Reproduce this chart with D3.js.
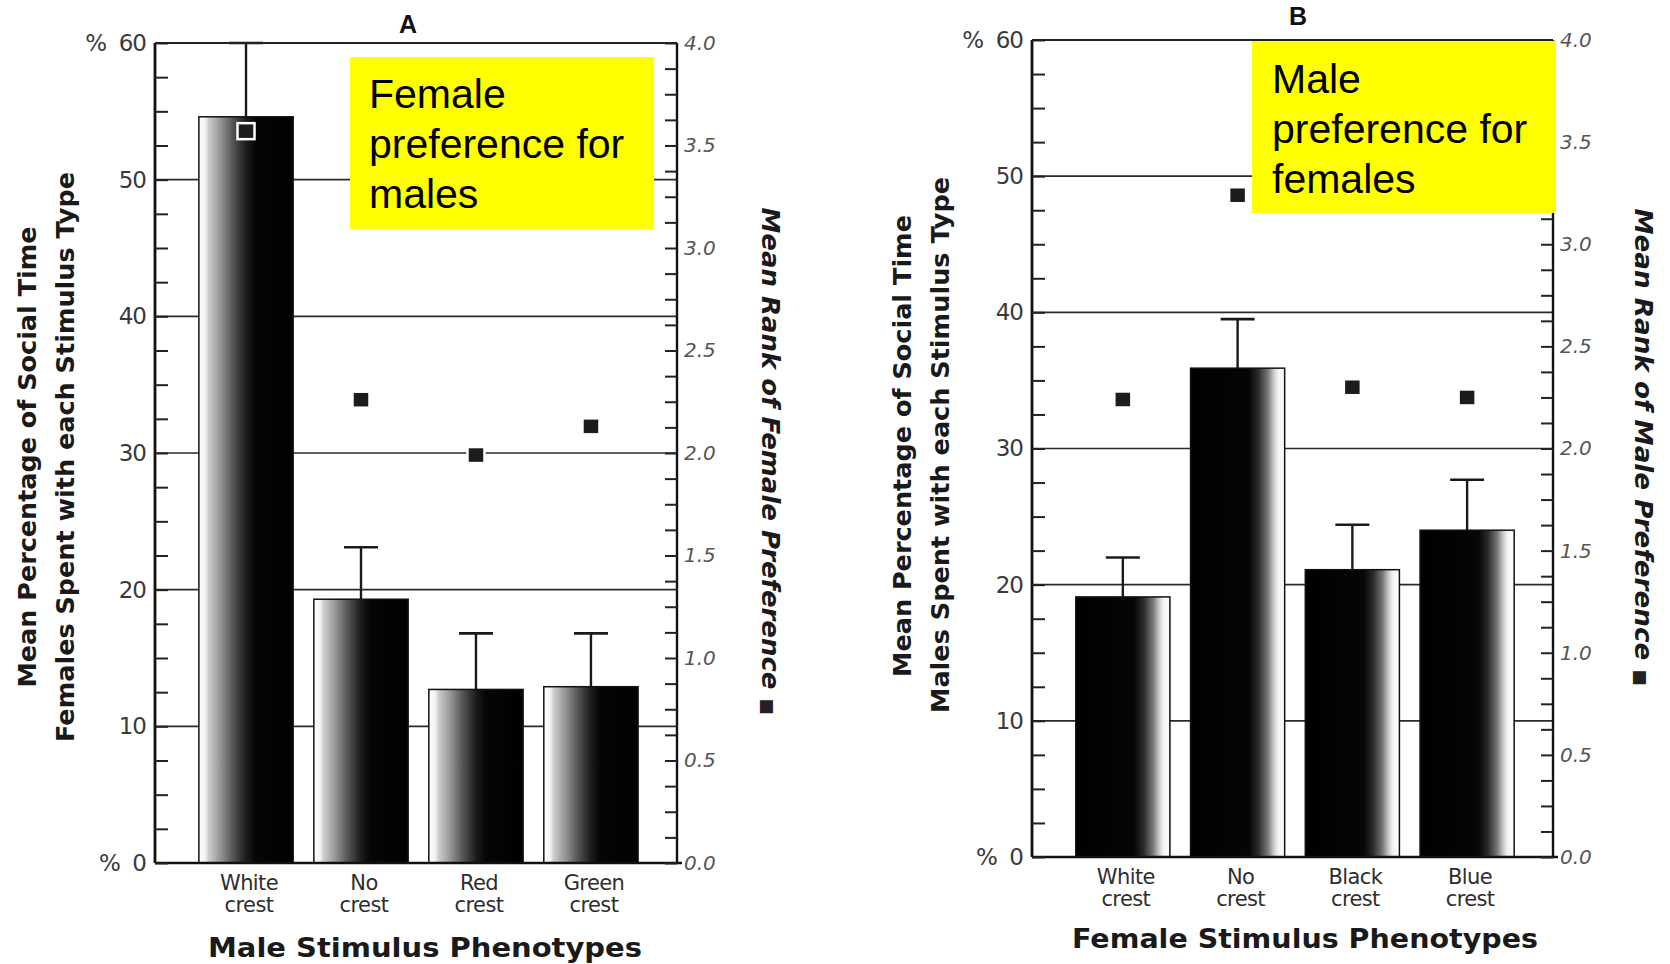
<!DOCTYPE html>
<html>
<head>
<meta charset="utf-8">
<script src="https://cdn.jsdelivr.net/npm/d3@7"></script>
<style>
  body { margin: 0; background: #fff; }
  svg { display: block; }
</style>
</head>
<body>
<svg id="chart" width="1670" height="964"></svg>
<script>
// Panel A: female preference for males
const catsA = ["White crest", "No crest", "Red crest", "Green crest"];
const pctA = [54.6, 19.3, 12.7, 12.9];
const seA = [5.4, 3.8, 4.1, 3.9];
const rankA = [3.57, 2.26, 1.99, 2.13];

// Panel B: male preference for females
const catsB = ["White crest", "No crest", "Black crest", "Blue crest"];
const pctB = [19.1, 35.9, 21.1, 24.0];
const seB = [2.9, 3.6, 3.3, 3.7];
const rankB = [2.24, 3.24, 2.30, 2.25];

// Axis ticks
const pctTicks = [0, 10, 20, 30, 40, 50, 60];
const rankTicks = [0, 0.5, 1.0, 1.5, 2.0, 2.5, 3.0, 3.5, 4.0];
const pctMinor = d3.range(0, 60.01, 2.5);
const rankMinor = d3.range(0, 4.001, 0.125);

const svg = d3.select("#chart");
const defs = svg.append("defs");

function addGradient(id, stops) {
    const grad = defs.append("linearGradient")
        .attr("id", id)
        .attr("x1", "0%").attr("x2", "100%")
        .attr("y1", "0%").attr("y2", "0%");
    stops.forEach(s => grad.append("stop").attr("offset", s[0]).attr("stop-color", s[1]));
}

// light on the left (A), light on the right (B)
addGradient("gradA", [[0, "#ffffff"], [0.07, "#f2f2f2"], [0.10, "#cfcfcf"], [0.22, "#999"],
    [0.36, "#555"], [0.50, "#1c1c1c"], [0.60, "#060606"], [1, "#000"]]);
addGradient("gradB", [[0, "#000"], [0.62, "#060606"], [0.72, "#2a2a2a"], [0.82, "#777"],
    [0.89, "#cfcfcf"], [0.93, "#f2f2f2"], [1, "#ffffff"]]);

const titleFont = "'DejaVu Sans', sans-serif";

function drawPanel(p) {
    const g = svg.append("g");

    const y = d3.scaleLinear().domain([0, 60]).range([p.bottom, p.top]);
    const yr = d3.scaleLinear().domain([0, 4]).range([p.bottom, p.top]);
    const x = d3.scaleBand()
        .domain(p.cats)
        .range([p.left, p.right])
        .paddingInner(0.18)
        .paddingOuter(0.36)
        .align(0.53);

    const rows = p.cats.map((c, i) => ({ cat: c, pct: p.pct[i], se: p.se[i], rank: p.rank[i] }));

    // Gridlines
    g.selectAll(".grid")
        .data(pctTicks.filter(d => d > 0))
        .enter()
        .append("line")
        .attr("x1", p.left).attr("x2", p.right)
        .attr("y1", d => y(d)).attr("y2", d => y(d))
        .attr("stroke", "#2a2a2a")
        .attr("stroke-width", 1.6);

    // Error bars
    const err = g.selectAll(".err").data(rows).enter().append("g");
    err.append("line")
        .attr("x1", d => x(d.cat) + x.bandwidth() / 2)
        .attr("x2", d => x(d.cat) + x.bandwidth() / 2)
        .attr("y1", d => y(d.pct))
        .attr("y2", d => y(d.pct + d.se))
        .attr("stroke", "#1a1a1a").attr("stroke-width", 2.4);
    err.append("line")
        .attr("x1", d => x(d.cat) + x.bandwidth() / 2 - 17)
        .attr("x2", d => x(d.cat) + x.bandwidth() / 2 + 17)
        .attr("y1", d => y(d.pct + d.se))
        .attr("y2", d => y(d.pct + d.se))
        .attr("stroke", "#1a1a1a").attr("stroke-width", 2.6);

    // Bars
    g.selectAll(".bar")
        .data(rows)
        .enter()
        .append("rect")
        .attr("x", d => x(d.cat))
        .attr("width", x.bandwidth())
        .attr("y", d => y(d.pct))
        .attr("height", d => y(0) - y(d.pct))
        .attr("fill", `url(#${p.grad})`)
        .attr("stroke", "#111")
        .attr("stroke-width", 1.5);

    // Mean rank markers
    g.selectAll(".rank")
        .data(rows)
        .enter()
        .append("rect")
        .attr("x", d => x(d.cat) + x.bandwidth() / 2 - 8.5)
        .attr("y", d => yr(d.rank) - 8)
        .attr("width", 17)
        .attr("height", 16)
        .attr("fill", "#1c1c1c")
        .attr("stroke", "#fff")
        .attr("stroke-width", 2.5);

    // Frame: top line, bottom axis, left and right axis lines
    g.append("line").attr("x1", p.left).attr("x2", p.right)
        .attr("y1", p.top).attr("y2", p.top)
        .attr("stroke", "#222").attr("stroke-width", 2);
    g.append("line").attr("x1", p.left).attr("x2", p.right + 5)
        .attr("y1", p.bottom).attr("y2", p.bottom)
        .attr("stroke", "#111").attr("stroke-width", 2.4);
    g.append("line").attr("x1", p.left).attr("x2", p.left)
        .attr("y1", p.top).attr("y2", p.bottom)
        .attr("stroke", "#111").attr("stroke-width", 2.8);
    g.append("line").attr("x1", p.right).attr("x2", p.right)
        .attr("y1", p.top).attr("y2", p.bottom)
        .attr("stroke", "#111").attr("stroke-width", 2.4);

    // Left axis: inward minor ticks + labels
    g.append("g")
        .attr("transform", `translate(${p.left},0)`)
        .attr("color", "#222")
        .call(d3.axisRight(y).tickValues(pctMinor).tickSize(13).tickFormat(""))
        .call(a => a.select(".domain").remove())
        .selectAll("line").attr("stroke-width", 2);

    g.append("g")
        .attr("transform", `translate(${p.left},0)`)
        .call(d3.axisLeft(y).tickValues(pctTicks).tickSize(0).tickPadding(9)
            .tickFormat(d => (d === 0 || d === 60) ? "%\u00a0\u00a0" + d : d))
        .call(a => a.select(".domain").remove())
        .selectAll("text")
        .style("font-family", titleFont)
        .style("font-size", "23px")
        .style("letter-spacing", "-1px")
        .attr("fill", "#3a3a3a");

    // Right axis: inward minor ticks + italic labels
    g.append("g")
        .attr("transform", `translate(${p.right},0)`)
        .attr("color", "#222")
        .call(d3.axisLeft(yr).tickValues(rankMinor).tickSize(12).tickFormat(""))
        .call(a => a.select(".domain").remove())
        .selectAll("line").attr("stroke-width", 2);

    g.append("g")
        .attr("transform", `translate(${p.right},0)`)
        .call(d3.axisRight(yr).tickValues(rankTicks).tickSize(0).tickPadding(7)
            .tickFormat(d3.format(".1f")))
        .call(a => a.select(".domain").remove())
        .selectAll("text")
        .style("font-family", titleFont)
        .style("font-style", "italic")
        .style("font-size", "20px")
        .attr("fill", "#555");

    // Category labels (two lines)
    const cl = g.selectAll(".cat")
        .data(rows)
        .enter()
        .append("text")
        .attr("text-anchor", "middle")
        .style("font-family", titleFont)
        .style("font-size", "21px")
        .style("letter-spacing", "-0.6px")
        .attr("fill", "#2e2e2e");
    cl.append("tspan")
        .attr("x", d => x(d.cat) + x.bandwidth() / 2 + 3)
        .attr("y", p.catY1)
        .text(d => d.cat.split(" ")[0]);
    cl.append("tspan")
        .attr("x", d => x(d.cat) + x.bandwidth() / 2 + 3)
        .attr("y", p.catY2)
        .text(d => d.cat.split(" ")[1]);

    // Panel letter
    g.append("text")
        .attr("x", p.letterX).attr("y", p.letterY)
        .attr("text-anchor", "middle")
        .style("font-family", "'Liberation Sans', Arial, sans-serif")
        .style("font-weight", "bold")
        .style("font-size", "25px")
        .attr("fill", "#111")
        .text(p.letter);

    // Left axis title (two rotated lines)
    p.yTitle.forEach(t => {
        g.append("text")
            .attr("transform", `translate(${t.x},${t.cy}) rotate(-90)`)
            .attr("text-anchor", "middle")
            .attr("textLength", t.len)
            .attr("lengthAdjust", "spacingAndGlyphs")
            .style("font-family", titleFont)
            .style("font-weight", "bold")
            .style("font-size", "25.5px")
            .attr("fill", "#1a1a1a")
            .text(t.text);
    });

    // Right axis title, with the small square legend key
    const rt = g.append("text")
        .attr("transform", `translate(${p.rTitle.x},${p.rTitle.cy}) rotate(90)`)
        .attr("text-anchor", "middle")
        .style("font-family", titleFont)
        .style("font-weight", "bold")
        .style("font-style", "italic")
        .style("font-size", "25px")
        .attr("fill", "#1a1a1a");
    rt.append("tspan")
        .attr("textLength", p.rTitle.len - 26)
        .attr("lengthAdjust", "spacingAndGlyphs")
        .text(p.rTitle.text + "\u00a0");
    rt.append("tspan")
        .style("font-size", "17px")
        .style("font-style", "normal")
        .attr("fill", "#222")
        .text("\u25A0");

    // X axis title
    g.append("text")
        .attr("x", p.xTitle.cx).attr("y", p.xTitle.y)
        .attr("text-anchor", "middle")
        .attr("textLength", p.xTitle.len)
        .attr("lengthAdjust", "spacingAndGlyphs")
        .style("font-family", titleFont)
        .style("font-weight", "bold")
        .style("font-size", "26px")
        .attr("fill", "#1a1a1a")
        .text(p.xTitle.text);

    // Yellow annotation box
    g.append("rect")
        .attr("x", p.box.x).attr("y", p.box.y)
        .attr("width", p.box.w).attr("height", p.box.h)
        .attr("fill", "#ffff00");
    const bt = g.append("text")
        .style("font-family", "'Liberation Sans', Arial, sans-serif")
        .style("font-size", "41px")
        .attr("fill", "#000");
    p.box.lines.forEach((line, i) => {
        bt.append("tspan")
            .attr("x", p.box.tx)
            .attr("y", p.box.ty + i * 50)
            .text(line);
    });
}

drawPanel({
    cats: catsA, pct: pctA, se: seA, rank: rankA, grad: "gradA",
    left: 155, right: 677, top: 43, bottom: 863,
    catY1: 890, catY2: 912,
    letter: "A", letterX: 408, letterY: 33,
    yTitle: [
        { text: "Mean Percentage of Social Time", x: 36, cy: 457, len: 461 },
        { text: "Females Spent with each Stimulus Type", x: 74, cy: 457, len: 570 }
    ],
    rTitle: { text: "Mean Rank of Female Preference", x: 762, cy: 461, len: 517 },
    xTitle: { text: "Male Stimulus Phenotypes", cx: 425, y: 957, len: 434 },
    box: { x: 350, y: 57, w: 304, h: 172, tx: 369, ty: 108,
        lines: ["Female", "preference for", "males"] }
});

drawPanel({
    cats: catsB, pct: pctB, se: seB, rank: rankB, grad: "gradB",
    left: 1032, right: 1553, top: 40, bottom: 857,
    catY1: 884, catY2: 906,
    letter: "B", letterX: 1298, letterY: 25,
    yTitle: [
        { text: "Mean Percentage of Social Time", x: 911, cy: 446, len: 462 },
        { text: "Males Spent with each Stimulus Type", x: 949, cy: 445, len: 536 }
    ],
    rTitle: { text: "Mean Rank of Male Preference", x: 1635, cy: 447, len: 487 },
    xTitle: { text: "Female Stimulus Phenotypes", cx: 1305, y: 948, len: 466 },
    box: { x: 1252, y: 41, w: 304, h: 172, tx: 1272, ty: 93,
        lines: ["Male", "preference for", "females"] }
});
</script>
</body>
</html>
